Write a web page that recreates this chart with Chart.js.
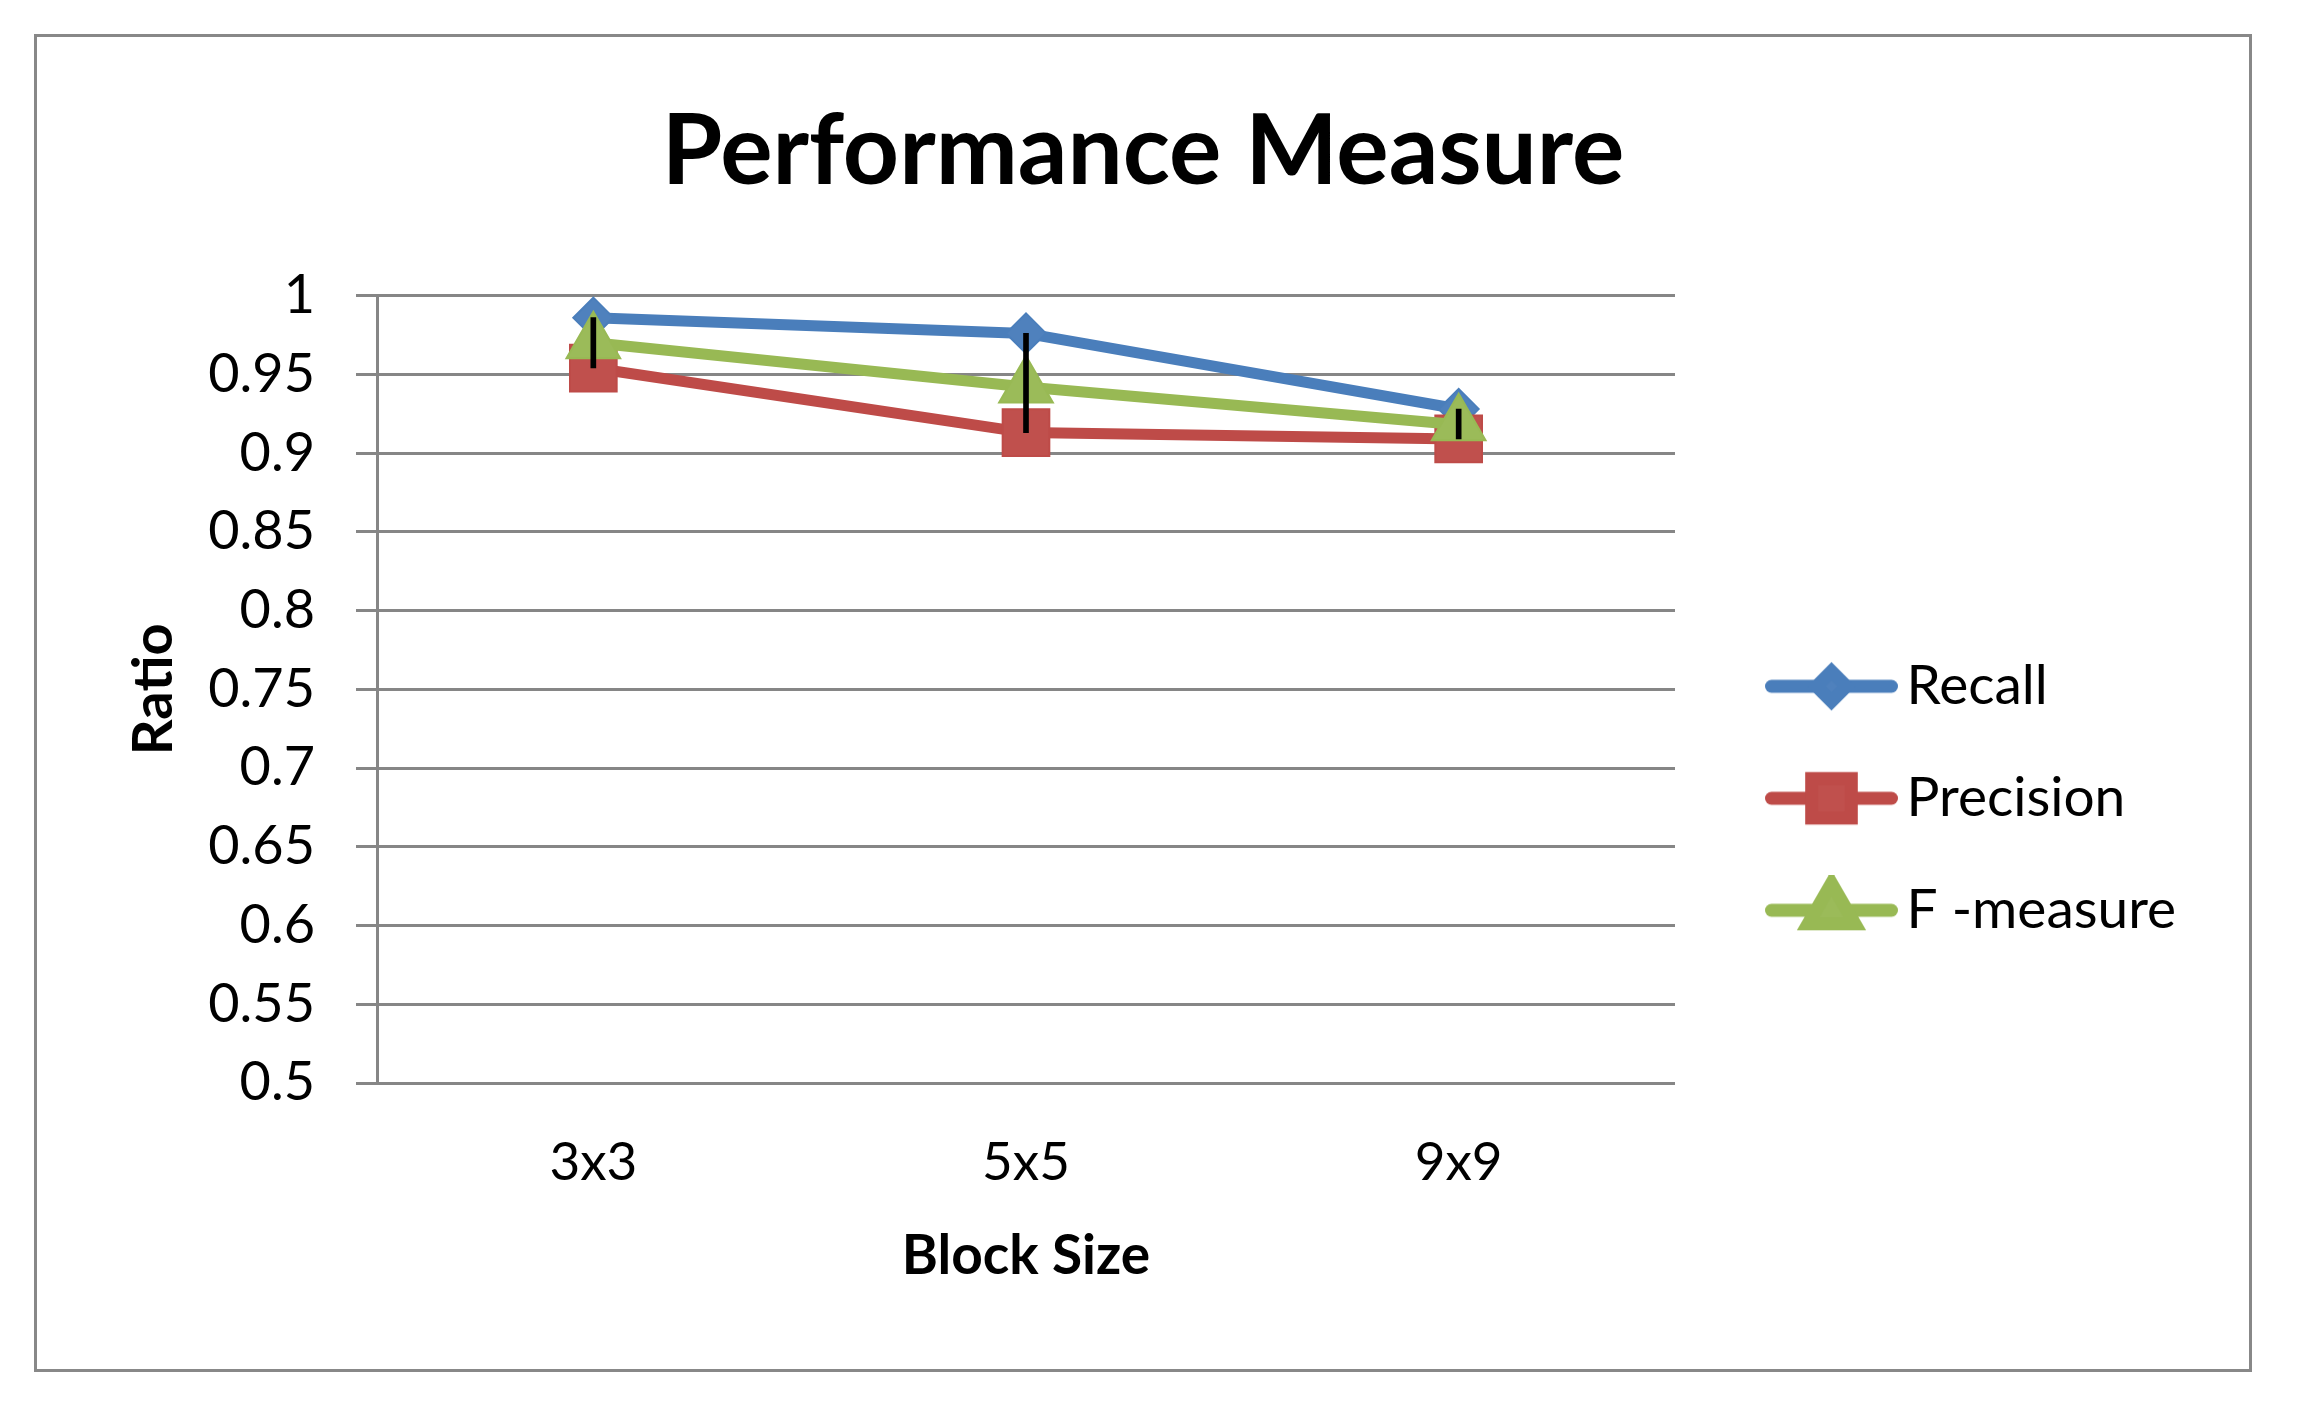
<!DOCTYPE html>
<html>
<head>
<meta charset="utf-8">
<script src="https://cdn.jsdelivr.net/npm/chart.js@4.4.1/dist/chart.umd.min.js"></script>
<style>
  html, body { margin: 0; padding: 0; background: #fff; }
  #frame { position: absolute; left: 34px; top: 34px; width: 2212px; height: 1332px; border: 3px solid #888; }
  #chart { width: 2212px; height: 1332px; }
</style>
</head>
<body>
<div id="frame"><canvas id="chart"></canvas></div>
<script>
const blockSizes = ['3x3', '5x5', '9x9'];
const recall = [0.986, 0.976, 0.928];
const precision = [0.954, 0.913, 0.909];
const fMeasure = [0.970, 0.942, 0.918];
const ratioTicks = [0.5, 0.55, 0.6, 0.65, 0.7, 0.75, 0.8, 0.85, 0.9, 0.95, 1];

// high-low lines, from the highest to the lowest series value at each block size
const hiLo = blockSizes.map((b, i) => {
  const vals = [recall[i], precision[i], fMeasure[i]];
  return [Math.min(...vals), Math.max(...vals)];
});

Chart.defaults.color = '#000';
Chart.defaults.font.family = 'Lato';

const series = [
  {name: 'Recall', data: recall, line: '#4A7EBB', fill: '#4F81BD', style: 'rectRot', r: 20, lr: 15},
  {name: 'Precision', data: precision, line: '#BE4B48', fill: '#C0504D', style: 'rect', r: 33, lr: 28},
  {name: 'F -measure', data: fMeasure, line: '#98B954', fill: '#9BBB59', style: 'triangle', r: 31, lr: 27}
];

// sizes of the frame / plot
const W = 2212;
const plotRight = 1638;
const legendFont = 55;
const legendPad = 57;
const boxW = 147;
const iconW = 185;

// legend icon: line with the marker on it
function makeIcon(s) {
  const c = document.createElement('canvas');
  c.width = iconW; c.height = 70;
  const g = c.getContext('2d');
  g.strokeStyle = s.line;
  g.lineWidth = 13;
  g.lineCap = 'round';
  g.beginPath();
  g.moveTo(52 + 6.5, 35);
  g.lineTo(iconW - 6.5, 35);
  g.stroke();
  g.fillStyle = s.fill;
  g.strokeStyle = s.line;
  Chart.helpers.drawPoint(g, {pointStyle: s.style, radius: s.lr, borderWidth: 2, rotation: 0}, 118.5, 35);
  return c;
}
const icons = series.map(makeIcon);

// legend width so that the plot ends at plotRight
const m = document.createElement('canvas').getContext('2d');
m.font = legendFont + 'px Lato';
const textW = Math.max(...series.map(s => m.measureText(s.name).width));
const legendW = legendPad + boxW + legendFont / 2 + textW + 10;
const side = Math.max(0, W - plotRight - legendW);

const datasets = series.map((s, i) => ({
  type: 'line',
  label: s.name,
  data: s.data,
  order: 3 - i,
  borderColor: s.line,
  backgroundColor: s.fill,
  borderWidth: 11,
  borderCapStyle: 'round',
  borderJoinStyle: 'round',
  tension: 0,
  pointStyle: s.style,
  pointRadius: s.r,
  pointBackgroundColor: s.fill,
  pointBorderColor: s.line,
  pointBorderWidth: 2,
  clip: false
}));

datasets.push({
  type: 'bar',
  label: 'hilo',
  data: hiLo,
  order: 0,
  backgroundColor: '#000',
  barThickness: 5
});

new Chart(document.getElementById('chart'), {
  type: 'line',
  data: {labels: blockSizes, datasets: datasets},
  options: {
    responsive: true,
    maintainAspectRatio: false,
    animation: false,
    layout: {padding: {left: side, right: side, top: 0, bottom: 0}},
    plugins: {
      tooltip: {enabled: false},
      title: {
        display: true,
        text: 'Performance Measure',
        font: {size: 98, weight: 'bold'},
        padding: {top: 57, bottom: 84}
      },
      legend: {
        position: 'right',
        fullSize: false,
        title: {display: true, text: ' ', font: {size: 20}, padding: {top: 97, bottom: 97}},
        labels: {
          usePointStyle: true,
          pointStyleWidth: boxW,
          padding: legendPad,
          font: {size: legendFont},
          filter: item => item.datasetIndex < 3,
          sort: (a, b) => a.datasetIndex - b.datasetIndex,
          generateLabels(chart) {
            const items = Chart.defaults.plugins.legend.labels.generateLabels(chart);
            items.forEach(it => { if (icons[it.datasetIndex]) it.pointStyle = icons[it.datasetIndex]; });
            return items;
          }
        }
      }
    },
    scales: {
      x: {
        offset: true,
        grid: {display: false, drawTicks: false},
        border: {display: false},
        ticks: {padding: 48, font: {size: 53}},
        title: {display: true, text: 'Block Size', font: {size: 55, weight: 'bold'}, padding: {top: 0, bottom: 80}},
        afterFit: scale => { scale.height = 286; }
      },
      y: {
        min: 0.5,
        max: 1,
        afterBuildTicks: scale => { scale.ticks = ratioTicks.map(v => ({value: v})); },
        grid: {color: '#868686', lineWidth: 3, tickLength: 21},
        border: {display: true, color: '#868686', width: 3},
        ticks: {
          padding: 41,
          font: {size: 54},
          callback: v => String(Number(v.toFixed(2)))
        },
        title: {display: true, text: 'Ratio', font: {size: 56, weight: 'bold'}, padding: {top: Math.max(0, 83 - side), bottom: 0}},
        afterFit: scale => { scale.width = 340 - side; }
      }
    }
  }
});
</script>
</body>
</html>
